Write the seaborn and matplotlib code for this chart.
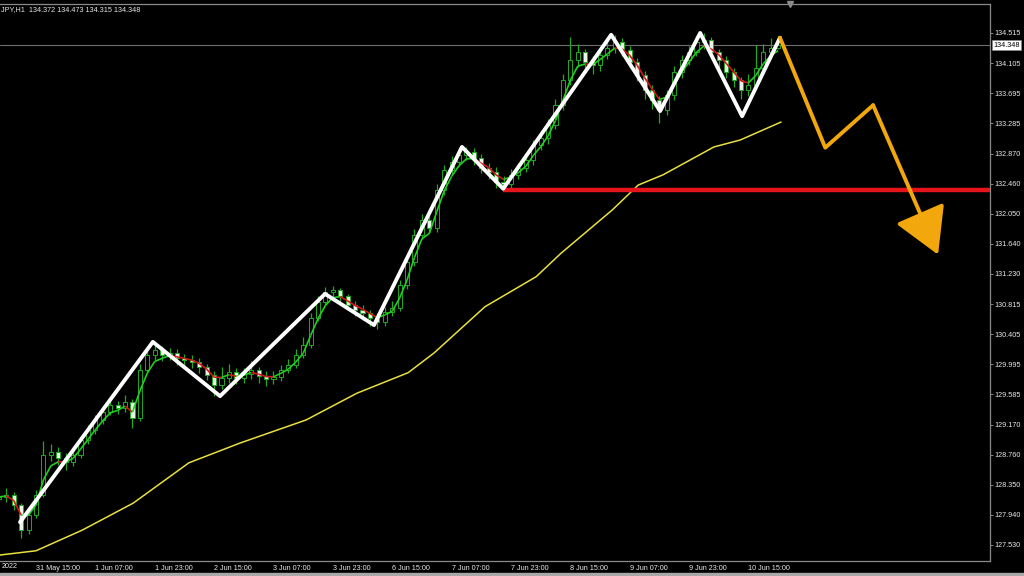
import numpy as np
import pandas as pd
import seaborn as sns
import matplotlib.pyplot as plt
from matplotlib.collections import LineCollection
from matplotlib.transforms import blended_transform_factory

# H1 chart, one candle drawn for every 2 bars (bar index on x)
bars = list(range(0, 211, 2))
first_open = 128.15
closes = [
    128.185, 128.21, 128.075, 127.735, 127.94, 128.21, 128.76, 128.80, 128.72, 128.66,
    128.76, 128.96, 129.10, 129.235, 129.345, 129.44, 129.40, 129.48, 129.26, 129.92,
    130.12, 130.19, 130.12, 130.15, 130.08, 130.05, 130.03, 129.96, 129.85, 129.71,
    129.81, 129.89, 129.81, 129.86, 129.92, 129.835, 129.795, 129.82, 129.92, 129.985,
    130.12, 130.26, 130.63, 130.845, 130.98, 131.01, 130.93, 130.80, 130.735, 130.695,
    130.63, 130.57, 130.71, 130.765, 131.08, 131.39, 131.76, 131.96, 131.855, 132.37,
    132.645, 132.755, 132.85, 132.89, 132.81, 132.67, 132.62, 132.48, 132.455, 132.58,
    132.67, 132.78, 132.99, 133.08, 133.26, 133.53, 133.87, 134.145, 134.255, 134.12,
    134.08, 134.215, 134.31, 134.39, 134.285, 134.12, 133.94, 133.74, 133.60, 133.465,
    133.67, 133.98, 134.145, 134.255, 134.39, 134.42, 134.255, 134.145, 133.98, 133.87,
    133.74, 133.805, 134.04, 134.255, 134.31, 134.348,
]
highs = [
    128.26, 128.30, 128.25, 128.10, 128.00, 128.28, 128.95, 128.90, 128.86, 128.78,
    128.84, 129.02, 129.17, 129.30, 129.42, 129.52, 129.50, 129.58, 129.52, 130.00,
    130.22, 130.30, 130.24, 130.22, 130.20, 130.14, 130.12, 130.08, 130.00, 129.90,
    129.96, 130.00, 129.95, 129.94, 130.04, 129.96, 129.90, 129.90, 129.99, 130.06,
    130.20, 130.36, 130.70, 130.92, 131.05, 131.06, 131.04, 130.96, 130.86, 130.80,
    130.74, 130.70, 130.78, 130.86, 131.14, 131.45, 131.84, 132.05, 132.02, 132.45,
    132.72, 132.84, 132.96, 132.96, 132.94, 132.86, 132.74, 132.68, 132.56, 132.66,
    132.74, 132.86, 133.05, 133.18, 133.34, 133.62, 133.96, 134.46, 134.36, 134.30,
    134.20, 134.30, 134.40, 134.49, 134.45, 134.34, 134.18, 134.00, 133.80, 133.66,
    133.74, 134.06, 134.22, 134.34, 134.47, 134.52, 134.46, 134.30, 134.20, 134.04,
    133.92, 133.96, 134.35, 134.36, 134.44, 134.47,
]
lows = [
    128.10, 128.12, 128.00, 127.62, 127.68, 127.90, 128.18, 128.68, 128.62, 128.55,
    128.60, 128.72, 128.90, 129.05, 129.18, 129.30, 129.32, 129.35, 129.13, 129.22,
    129.88, 130.05, 130.04, 130.05, 129.98, 129.96, 129.95, 129.88, 129.78, 129.56,
    129.66, 129.74, 129.72, 129.74, 129.80, 129.74, 129.70, 129.72, 129.76, 129.88,
    129.95, 130.08, 130.22, 130.58, 130.80, 130.90, 130.86, 130.74, 130.66, 130.60,
    130.52, 130.48, 130.52, 130.66, 130.72, 131.02, 131.34, 131.70, 131.78, 131.80,
    132.30, 132.58, 132.70, 132.78, 132.72, 132.60, 132.52, 132.40, 132.37, 132.40,
    132.52, 132.62, 132.72, 132.92, 133.00, 133.20, 133.46, 133.80, 134.05, 134.00,
    133.96, 134.00, 134.16, 134.24, 134.20, 134.04, 133.86, 133.62, 133.48, 133.28,
    133.40, 133.60, 133.90, 134.08, 134.20, 134.30, 134.18, 134.04, 133.90, 133.78,
    133.62, 133.66, 133.76, 134.00, 134.20, 134.30,
]

# long moving average (yellow)
yellow_bars = [0, 10, 22.4, 36.2, 51.2, 65, 82.8, 96.5, 110.3, 117.3, 131, 144.8,
               151.5, 165.3, 172.3, 179, 192.7, 199.8, 210.8]
yellow_price = [127.39, 127.45, 127.73, 128.10, 128.65, 128.92, 129.235, 129.60, 129.88,
                130.15, 130.78, 131.19, 131.51, 132.10, 132.44, 132.58, 132.96, 133.055, 133.30]

# hand drawn swing lines
zig_bars = [5.7, 41.5, 59.6, 87.9, 101.1, 124.8, 135.9, 165, 178.2, 189, 200.3, 210.5]
zig_price = [127.84, 130.30, 129.56, 130.955, 130.53, 132.96, 132.39, 134.49, 133.45,
             134.515, 133.38, 134.45]
fc_bars = [210.5, 222.7, 235.6, 253.1]
fc_price = [134.45, 132.95, 133.53, 131.49]
support_start = 135.9
support = 132.37
last_price = 134.348

time_ticks = list(range(10, 203, 16))
time_labels = ["31 May 15:00", "1 Jun 07:00", "1 Jun 23:00", "2 Jun 15:00", "3 Jun 07:00",
               "3 Jun 23:00", "6 Jun 15:00", "7 Jun 07:00", "7 Jun 23:00", "8 Jun 15:00",
               "9 Jun 07:00", "9 Jun 23:00", "10 Jun 15:00"]
price_ticks = [134.515, 134.105, 133.695, 133.285, 132.870, 132.460, 132.050, 131.640,
               131.230, 130.815, 130.405, 129.995, 129.585, 129.170, 128.760, 128.350,
               127.940, 127.530]

sns.set_style("dark", {"axes.facecolor": "black", "figure.facecolor": "black"})
plt.rcParams["font.family"] = ["Liberation Sans", "DejaVu Sans"]
fs = 5.2

df = pd.DataFrame({"bar": bars, "close": closes, "high": highs, "low": lows})
df["open"] = df["close"].shift(1).fillna(first_open)
df["ma"] = df["close"].ewm(span=3, adjust=False).mean()

fig = plt.figure(figsize=(10.24, 5.76), dpi=100, facecolor="black")
ax = fig.add_axes([0, 0.026, 0.9668, 0.967])
ax.set_facecolor("black")

green = "#23a823"
up = df["close"] >= df["open"]
ax.vlines(df["bar"], df["low"], df["high"], color=green, lw=0.9, zorder=2)
body_lo = np.minimum(df["open"], df["close"])
body_h = np.maximum((df["close"] - df["open"]).abs(), 0.012)
ax.bar(df["bar"][up], body_h[up], bottom=body_lo[up], width=1.1,
       color="black", edgecolor=green, lw=0.7, zorder=3)
ax.bar(df["bar"][~up], body_h[~up], bottom=body_lo[~up], width=1.1,
       color="#e6f5e6", edgecolor=green, lw=0.7, zorder=3)

# short MA, green when rising, red when falling
pts = np.column_stack([df["bar"], df["ma"]])
segs = np.stack([pts[:-1], pts[1:]], axis=1)
seg_cols = ["#1fd01f" if b >= a else "#d01818" for a, b in zip(df["ma"][:-1], df["ma"][1:])]
ax.add_collection(LineCollection(segs, colors=seg_cols, lw=1.2, zorder=4))

sns.lineplot(x=yellow_bars, y=yellow_price, ax=ax, color="#e8e040", lw=1.1,
             estimator=None, sort=False, zorder=4)

ax.axhline(last_price, color="#6e6e6e", lw=0.8, zorder=1)
ax.plot([support_start, 300], [support, support], color="#e8141c", lw=3.2,
        solid_capstyle="butt", zorder=5)

sns.lineplot(x=zig_bars, y=zig_price, ax=ax, color="white", lw=2.8,
             estimator=None, sort=False, zorder=6)
orange = "#f2a70c"
sns.lineplot(x=fc_bars[:3], y=fc_price[:3], ax=ax, color=orange, lw=2.8,
             estimator=None, sort=False, zorder=6)
ax.annotate("", xy=(fc_bars[3], fc_price[3]), xytext=(fc_bars[2], fc_price[2]),
            arrowprops=dict(arrowstyle="-|>,head_length=0.95,head_width=0.55",
                            color=orange, lw=2.8, mutation_scale=30,
                            shrinkA=0, shrinkB=0), zorder=6)

ax.set_xlim(0.3, 267.1)
ax.set_ylim(127.31, 134.91)

ax.yaxis.tick_right()
ax.set_yticks(price_ticks, [f"{p:.3f}" for p in price_ticks])
ax.set_xticks(time_ticks, time_labels)
for lab in ax.get_xticklabels():
    lab.set_horizontalalignment("left")
ax.tick_params(axis="both", colors="#9a9a9a", labelcolor="#e8e8e8", labelsize=fs,
               length=2, width=0.6, direction="out", pad=1.0)
ax.tick_params(axis="x", pad=0.8)
ax.grid(False)
for side in ["top", "right", "bottom"]:
    ax.spines[side].set_color("#8a8a8a")
    ax.spines[side].set_linewidth(0.9)
    ax.spines[side].set_visible(True)
ax.spines["left"].set_visible(False)
ax.set_xlabel("")
ax.set_ylabel("")

tr = blended_transform_factory(ax.transAxes, ax.transData)
ax.text(1.003, last_price, "134.348", transform=tr, fontsize=fs, color="black",
        va="center", ha="left",
        bbox=dict(boxstyle="square,pad=0.2", fc="white", ec="#888888", lw=0.5))
tr2 = blended_transform_factory(ax.transData, ax.transAxes)
ax.plot([213.2], [1.0], marker="v", ms=5, color="#8a8a8a", transform=tr2, clip_on=False)

fig.text(0.001, 1 - 9.5 / 576, "JPY,H1  134.372 134.473 134.315 134.348", color="#e8e8e8",
         fontsize=fs, va="center", ha="left")
fig.text(0.002, 1 - 566.5 / 576, "2022", color="#e8e8e8", fontsize=fs, va="center", ha="left")
fig.patches.append(plt.Rectangle((0, 0), 1, 3 / 576, transform=fig.transFigure,
                                 color="#a8a8a8", zorder=0))

fig.savefig("out.png", dpi=100, facecolor="black")
